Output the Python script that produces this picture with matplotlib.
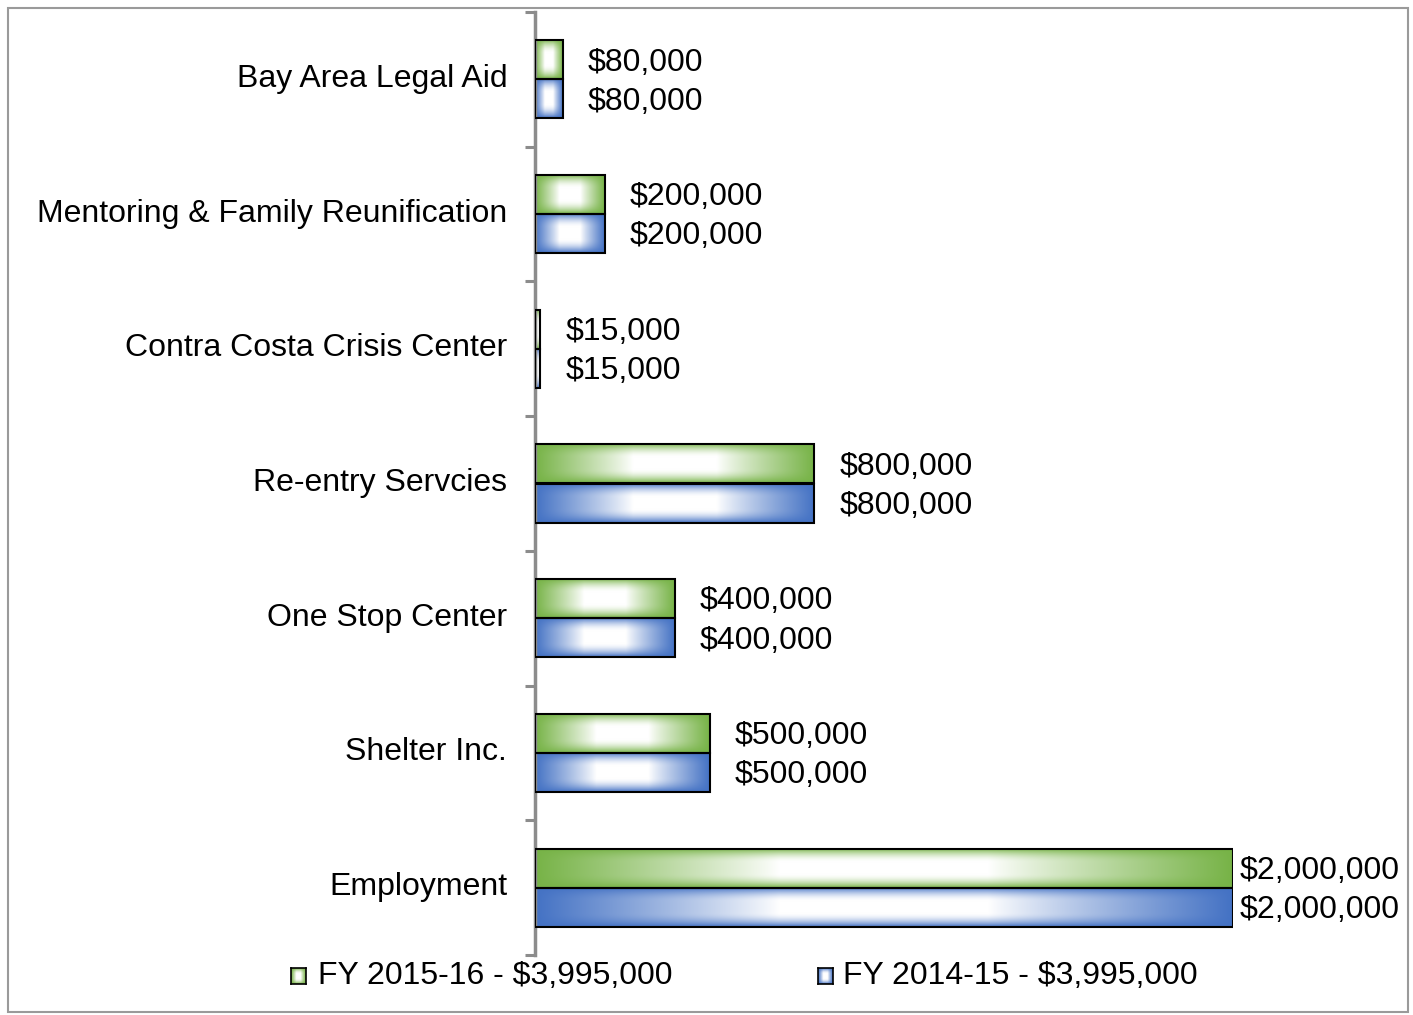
import numpy as np
import matplotlib

matplotlib.use("agg")
import matplotlib.pyplot as plt
from matplotlib.patches import Rectangle

plt.rcParams["font.family"] = ["Liberation Sans", "DejaVu Sans"]

categories = [
    "Bay Area Legal Aid",
    "Mentoring & Family Reunification",
    "Contra Costa Crisis Center",
    "Re-entry Servcies",
    "One Stop Center",
    "Shelter Inc.",
    "Employment",
]
fy_2015_16 = [80000, 200000, 15000, 800000, 400000, 500000, 2000000]
fy_2014_15 = [80000, 200000, 15000, 800000, 400000, 500000, 2000000]
series_labels = ["FY 2015-16 - $3,995,000", "FY 2014-15 - $3,995,000"]

GREEN = np.array([0x77, 0xB3, 0x47]) / 255
BLUE = np.array([0x44, 0x72, 0xC4]) / 255

W, H = 1413, 1015
FS = 23


def gradient(color, nx=300, ny=60):
    """Excel-like path gradient: colour at the edges, white in the middle."""
    u = np.abs(np.linspace(-1, 1, nx))[None, :]
    v = np.abs(np.linspace(-1, 1, ny))[:, None]
    wh = np.clip((u - 0.3) / 0.7, 0, 1) ** 0.9
    wv = np.clip((v - 0.3) / 0.7, 0, 1) ** 1.8
    w = 1 - (1 - wh) * (1 - wv)
    w = w[..., None]
    return (1 - w) * np.ones(3) + w * color


def fx(px):
    return px / W


def fy(py):
    return 1 - py / H


fig = plt.figure(figsize=(W / 100, H / 100), dpi=100)
ax = fig.add_axes([fx(535), fy(955), fx(1233) - fx(535), fy(12) - fy(955)])

h = 0.29
pos = np.arange(len(categories))
groups = [(fy_2015_16, pos - h, GREEN), (fy_2014_15, pos, BLUE)]
for vals, ys, col in groups:
    bars = ax.barh(ys, vals, height=h, align="edge", facecolor="none",
                   edgecolor="black", linewidth=1.5, zorder=3)
    img = gradient(col)
    for b, v in zip(bars, vals):
        im = ax.imshow(img, extent=[0, v, b.get_y() + h, b.get_y()],
                       aspect="auto", zorder=2, interpolation="bilinear")
        im.set_clip_path(b)
        pad = 5 if v == max(vals) else 18
        ax.annotate(f"${v:,.0f}", (v, b.get_y() + h / 2), xytext=(pad, -2),
                    textcoords="offset points", va="center", ha="left",
                    fontsize=FS, annotation_clip=False)

ax.set_xlim(0, 2000000)
ax.set_ylim(len(categories) - 0.5, -0.5)
ax.set_yticks(pos - 0.03)
ax.set_yticklabels(categories, fontsize=FS)
ax.set_yticks(np.arange(len(categories) + 1) - 0.5, minor=True)
ax.tick_params(axis="y", which="major", length=0, pad=20)
ax.tick_params(axis="y", which="minor", length=7.5, width=2.2, color="#8c8c8c")
ax.set_xticks([])
for s in ["top", "right", "bottom"]:
    ax.spines[s].set_visible(False)
ax.spines["left"].set_color("#8c8c8c")
ax.spines["left"].set_linewidth(2.5)

# legend drawn by hand so the markers keep the gradient look
for mx, tx, col, lab in [(291, 318, GREEN, series_labels[0]),
                         (818, 843, BLUE, series_labels[1])]:
    lax = fig.add_axes([fx(mx), fy(984), fx(mx + 15) - fx(mx), fy(968) - fy(984)])
    lax.imshow(gradient(col, 40, 40), aspect="auto", extent=[0, 1, 0, 1])
    lax.set_xticks([])
    lax.set_yticks([])
    for s in lax.spines.values():
        s.set_linewidth(1.2)
    fig.text(fx(tx), fy(976), lab, fontsize=FS, va="center", ha="left")

fig.patches.append(Rectangle((fx(8), fy(1012)), fx(1408) - fx(8), fy(8) - fy(1012),
                             transform=fig.transFigure, fill=False,
                             edgecolor="#9a9a9a", linewidth=1.5))

fig.savefig("out.png", dpi=100)
